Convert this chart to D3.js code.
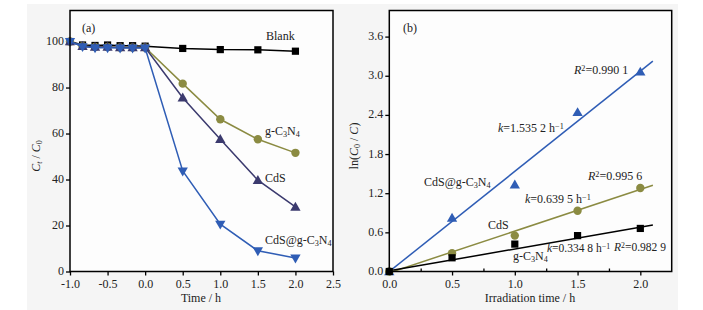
<!DOCTYPE html>
<html><head><meta charset="utf-8">
<script src="https://cdn.jsdelivr.net/npm/d3@7"></script>
<style>
body{margin:0;background:#fff;}
svg text{font-family:"Liberation Serif","Times New Roman",serif;fill:#222;}
</style></head>
<body><svg id="c" width="703" height="310"></svg>
<script>
// ---- Data: panel (a) ----
const timeA = [-1.0, -0.833, -0.667, -0.5, -0.333, -0.167, 0, 0.5, 1.0, 1.5, 2.0];
const blankA = [100, 98.5, 98.3, 98.5, 98.2, 98.2, 98.0, 97.0, 96.5, 96.4, 95.8];
const gcnA   = [100, 98.0, 97.6, 97.6, 97.4, 97.4, 97.4, 81.7, 66.2, 57.5, 51.6];
const cdsA   = [100, 98.0, 97.6, 97.6, 97.4, 97.4, 97.4, 75.6, 57.5, 39.7, 28.1];
const cdsgA  = [100, 97.8, 97.3, 97.3, 97.2, 97.2, 97.2, 43.7, 20.6, 9.0, 5.9];
const xTicksA = [-1.0, -0.5, 0.0, 0.5, 1.0, 1.5, 2.0, 2.5];
const yTicksA = [0, 20, 40, 60, 80, 100];

// ---- Data: panel (b) ----
const timeB = [0, 0.5, 1.0, 1.5, 2.0];
const cdsgB = [0, 0.82, 1.33, 2.44, 3.06];
const cdsB  = [0, 0.28, 0.55, 0.93, 1.28];
const gcnB  = [0, 0.21, 0.42, 0.55, 0.66];
const slopesB = [1.5352, 0.6395, 0.3348];
const interceptsB = [0.0, -0.02, 0.01];
const fitRangeB = [0, 2.1];
const xTicksB = [0.0, 0.5, 1.0, 1.5, 2.0];
const xMinorB = [0.25, 0.75, 1.25, 1.75];
const yTicksB = [0.0, 0.6, 1.2, 1.8, 2.4, 3.0, 3.6];

const COL = {black:"#000000", olive:"#8b8b42", navy:"#3b3a6e", blue:"#2f5db5"};

const svg = d3.select("#c");
svg.append("rect").attr("x",27).attr("y",4).attr("width",651).attr("height",306).attr("fill","#f5f5f5");

function marker(g, type, x, y, color){
  if(type==="square"){
    g.append("rect").attr("x",x-3.6).attr("y",y-3.6).attr("width",7.2).attr("height",7.2).attr("fill",color);
  } else if(type==="circle"){
    g.append("circle").attr("cx",x).attr("cy",y).attr("r",4.2).attr("fill",color);
  } else {
    const sym = d3.symbol().type(d3.symbolTriangle).size(46);
    g.append("path").attr("d",sym()).attr("fill",color)
      .attr("transform",`translate(${x},${y+(type==="down"?-0.5:0.8)}) rotate(${type==="down"?180:0})`);
  }
}

function sub(t, parts, size){
  parts.forEach(([s,k])=>{
    const ts = t.append("tspan").text(s);
    if(k==="i"||k==="subi"||k==="supi") ts.attr("font-style","italic");
    if(k.startsWith("sub")){ts.attr("font-size",size*0.68).attr("baseline-shift","-25%");}
    if(k.startsWith("sup")){ts.attr("font-size",size*0.68).attr("baseline-shift","40%");}
  });
}
function label(g, x, y, parts, size, anchor){
  const t = g.append("text").attr("x",x).attr("y",y).attr("font-size",size).attr("text-anchor",anchor||"start");
  sub(t, parts, size);
  return t;
}

// ================= Panel (a) =================
const xA = d3.scaleLinear().domain([-1,2.5]).range([70,333]);
const yA = d3.scaleLinear().domain([0,113.5]).range([271.5,10.5]);
const gA = svg.append("g");
gA.append("rect").attr("x",70).attr("y",10.5).attr("width",263).attr("height",261).attr("fill","#fdfdfd");

const axBA = gA.append("g").attr("transform","translate(0,271.5)")
  .call(d3.axisBottom(xA).tickValues(xTicksA).tickFormat(d3.format(".1f")).tickSize(4).tickPadding(4));
const axLA = gA.append("g").attr("transform","translate(70,0)")
  .call(d3.axisLeft(yA).tickValues(yTicksA).tickSize(4).tickPadding(2));
[axBA,axLA].forEach(a=>{a.select(".domain").remove();a.selectAll("line").attr("stroke","#000").attr("stroke-width",1.3);
  a.selectAll("text").attr("font-size",12).attr("fill","#222").attr("font-family","Liberation Serif");});
axBA.selectAll("text").text(d=>d<0?"-"+Math.abs(d).toFixed(1):d.toFixed(1));
axLA.selectAll("text").attr("dy","0.25em");

const seriesA = [
  {v:blankA, c:COL.black, m:"square"},
  {v:gcnA, c:COL.olive, m:"circle"},
  {v:cdsA, c:COL.navy, m:"up"},
  {v:cdsgA, c:COL.blue, m:"down"}
];
const lineA = d3.line().x(d=>xA(d[0])).y(d=>yA(d[1]));
seriesA.forEach(s=>{
  const pts = timeA.map((t,i)=>[t,s.v[i]]);
  gA.append("path").attr("d",lineA(pts)).attr("fill","none").attr("stroke",s.c).attr("stroke-width",1.5);
  pts.forEach(p=>marker(gA,s.m,xA(p[0]),yA(p[1]),s.c));
});
gA.append("rect").attr("x",70).attr("y",10.5).attr("width",263).attr("height",261).attr("fill","none").attr("stroke","#000").attr("stroke-width",1.5);

label(gA,82,32,[["(a)","n"]],12);
label(gA,266,40,[["Blank","n"]],12);
label(gA,265,135,[["g-C","n"],["3","sub"],["N","n"],["4","sub"]],12);
label(gA,265,182,[["CdS","n"]],12);
label(gA,265,244,[["CdS@g-C","n"],["3","sub"],["N","n"],["4","sub"]],12);
label(gA,201,302,[["Time / h","n"]],12,"middle");
label(gA,0,0,[["C","i"],["t","subi"],[" / ","n"],["C","i"],["0","sub"]],12,"middle")
  .attr("transform","translate(40,156) rotate(-90)");

// ================= Panel (b) =================
const xB = d3.scaleLinear().domain([0,2.25]).range([389.3,671.7]);
const yB = d3.scaleLinear().domain([0,4.0]).range([271.5,10.5]);
const gB = svg.append("g");
gB.append("rect").attr("x",389.3).attr("y",10.5).attr("width",282.4).attr("height",261).attr("fill","#fdfdfd");

const axBB = gB.append("g").attr("transform","translate(0,271.5)")
  .call(d3.axisBottom(xB).tickValues(xTicksB).tickFormat(d3.format(".1f")).tickSize(4).tickPadding(4));
const axLB = gB.append("g").attr("transform","translate(389.3,0)")
  .call(d3.axisLeft(yB).tickValues(yTicksB).tickFormat(d3.format(".1f")).tickSize(4).tickPadding(2));
const axMB = gB.append("g").attr("transform","translate(0,271.5)")
  .call(d3.axisTop(xB).tickValues(xMinorB).tickSize(3).tickFormat(""));
[axBB,axLB,axMB].forEach(a=>{a.select(".domain").remove();a.selectAll("line").attr("stroke","#000").attr("stroke-width",1.3);
  a.selectAll("text").attr("font-size",12).attr("fill","#222").attr("font-family","Liberation Serif");});
axLB.selectAll("text").attr("dy","0.25em");

const seriesB = [
  {v:cdsgB, c:COL.blue, m:"up", k:0},
  {v:cdsB, c:COL.olive, m:"circle", k:1},
  {v:gcnB, c:COL.black, m:"square", k:2}
];
gB.append("clipPath").attr("id","clipB").append("rect")
  .attr("x",389.3).attr("y",10.5).attr("width",282.4).attr("height",261);
const lineB = d3.line().x(d=>xB(d[0])).y(d=>yB(d[1]));
seriesB.forEach(s=>{
  const fit = fitRangeB.map(x=>[x, slopesB[s.k]*x+interceptsB[s.k]]);
  gB.append("path").attr("d",lineB(fit)).attr("fill","none").attr("stroke",s.c).attr("stroke-width",1.5).attr("clip-path","url(#clipB)");
});
seriesB.forEach(s=>{
  timeB.forEach((t,i)=>marker(gB,s.m,xB(t),yB(s.v[i]),s.c));
});
gB.append("rect").attr("x",389.3).attr("y",10.5).attr("width",282.4).attr("height",261).attr("fill","none").attr("stroke","#000").attr("stroke-width",1.5);

label(gB,403,32,[["(b)","n"]],12);
label(gB,574,74,[["R","i"],["2","sup"],["=0.990 1","n"]],12);
label(gB,498,132,[["k","i"],["=1.535 2 h","n"],["−1","sup"]],12);
label(gB,588,180,[["R","i"],["2","sup"],["=0.995 6","n"]],12);
label(gB,525,203,[["k","i"],["=0.639 5 h","n"],["−1","sup"]],12);
label(gB,424,186,[["CdS@g-C","n"],["3","sub"],["N","n"],["4","sub"]],12);
label(gB,488,229,[["CdS","n"]],12);
label(gB,513,260,[["g-C","n"],["3","sub"],["N","n"],["4","sub"]],12);
label(gB,547,252,[["k","i"],["=0.334 8 h","n"],["−1","sup"]],11.5);
label(gB,614,251,[["R","i"],["2","sup"],["=0.982 9","n"]],11.5);
label(gB,530,302,[["Irradiation time / h","n"]],12,"middle");
label(gB,0,0,[["ln(","n"],["C","i"],["0","sub"],[" / ","n"],["C","i"],[")","n"]],12,"middle")
  .attr("transform","translate(358,146) rotate(-90)");
</script></body></html>
